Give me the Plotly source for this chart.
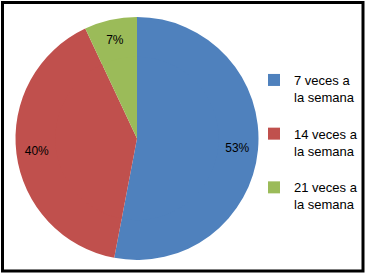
import plotly.graph_objects as go

labels = ["7 veces a<br>la semana<br> ", "14 veces a<br>la semana<br> ", "21 veces a<br>la semana<br> "]
values = [53, 40, 7]
colors = ["#4F81BD", "#C0504D", "#9BBB59"]

W, H = 367, 276
CX, CY, R = 137, 138.5, 121.5
HOLE = 0.66
RIN = R * HOLE + 1.5

fig = go.Figure()
# outer ring carries the percentage labels (placed far out, like Excel)
fig.add_trace(go.Pie(
    labels=labels,
    values=values,
    sort=False,
    direction="clockwise",
    rotation=0,
    hole=HOLE,
    marker=dict(colors=colors, line=dict(width=0)),
    texttemplate="%{percent:.0%}",
    textposition="inside",
    insidetextorientation="horizontal",
    textfont=dict(family="Liberation Sans", size=12, color="black"),
    domain=dict(x=[(CX - R) / W, (CX + R) / W], y=[(H - CY - R) / H, (H - CY + R) / H]),
    hoverinfo="label+percent",
))
# inner disc fills the hole
fig.add_trace(go.Pie(
    labels=labels,
    values=values,
    sort=False,
    direction="clockwise",
    rotation=0,
    marker=dict(colors=colors, line=dict(width=0)),
    textinfo="none",
    showlegend=False,
    domain=dict(x=[(CX - RIN) / W, (CX + RIN) / W],
                y=[(H - CY - RIN) / H, (H - CY + RIN) / H]),
    hoverinfo="label+percent",
))

fig.update_layout(
    width=W, height=H,
    margin=dict(l=0, r=0, t=0, b=0),
    paper_bgcolor="white",
    plot_bgcolor="white",
    font=dict(family="Liberation Sans", size=13, color="black"),
    showlegend=True,
    legend=dict(
        x=254 / W, y=(276 - 65) / H, xanchor="left", yanchor="top",
        valign="top",
        bgcolor="rgba(0,0,0,0)",
        font=dict(family="Liberation Sans", size=13, color="black"),
        itemwidth=30,
    ),
    shapes=[dict(
        type="rect", xref="paper", yref="paper",
        x0=2.5 / W, x1=363 / W, y0=(276 - 271) / H, y1=(276 - 2.5) / H,
        line=dict(color="black", width=3), fillcolor="rgba(0,0,0,0)",
    )],
)

fig.write_html("out.html", config={"displayModeBar": False},
               post_script="document.body.style.margin='0px';")
